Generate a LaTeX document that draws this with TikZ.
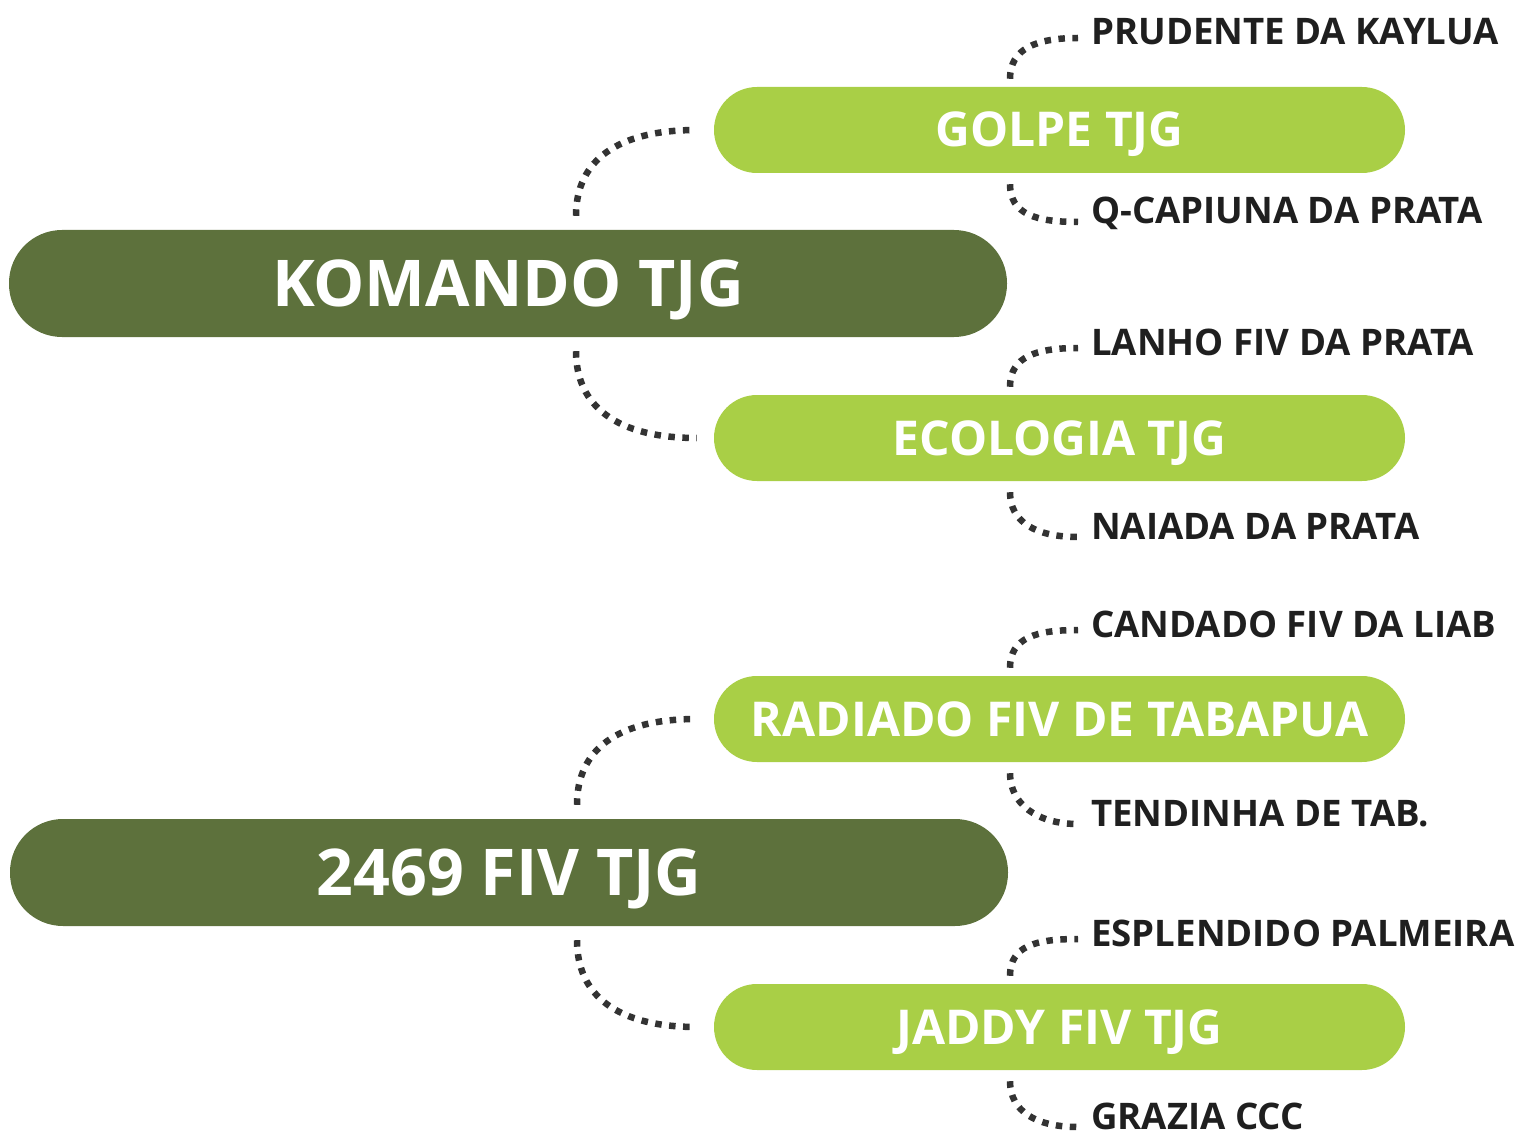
\documentclass[tikz,border=0pt]{standalone}
\usepackage{fontspec}
\setmainfont{Open Sans}[BoldFont={* Bold}]
\definecolor{darkg}{HTML}{5D713C}
\definecolor{lightg}{HTML}{A9CF46}
\definecolor{dotc}{HTML}{333333}
\begin{document}
\begin{tikzpicture}[x=1pt,y=-1pt,
  mainbar/.style={fill=darkg,rounded corners=53pt,minimum width=998pt,minimum height=107pt,inner sep=0pt,text height=46pt,text depth=0pt,text=white,font=\fontsize{64.5}{70}\selectfont\bfseries},
  subbar/.style={fill=lightg,rounded corners=43pt,minimum width=691pt,minimum height=86pt,inner sep=0pt,text height=34pt,text depth=0pt,text=white,font=\fontsize{48}{52}\selectfont\bfseries},
  leaf/.style={anchor=west,inner sep=0pt,text height=26pt,text depth=0pt,text=black!88,font=\fontsize{36.6}{40}\selectfont\bfseries},
  dotline/.style={draw=dotc,line width=6.5pt,dash pattern=on 6.5pt off 7.5pt}]
\useasboundingbox (0,0) rectangle (1516,1134);
% main bars
\node[mainbar] (k1) at (508,283.5) {KOMANDO TJG};
\node[mainbar] (k2) at (509,872.5) {2469 FIV TJG};
% sub bars
\node[subbar] (g1) at (1059.5,130) {GOLPE TJG};
\node[subbar] (g2) at (1059.5,438) {ECOLOGIA TJG};
\node[subbar] (g3) at (1059.5,719) {RADIADO FIV DE TABAPUA};
\node[subbar] (g4) at (1059.5,1027) {JADDY FIV TJG};
% leaves
\node[leaf] (l1) at (1091,32) {PRUDENTE DA KAYLUA};
\node[leaf] (l2) at (1091,211) {Q-CAPIUNA DA PRATA};
\node[leaf] (l3) at (1091,342) {LANHO FIV DA PRATA};
\node[leaf] (l4) at (1091,526) {NAIADA DA PRATA};
\node[leaf] (l5) at (1091,624) {CANDADO FIV DA LIAB};
\node[leaf] (l6) at (1091,813) {TENDINHA DE TAB.};
\node[leaf] (l7) at (1091,933) {ESPLENDIDO PALMEIRA};
\node[leaf] (l8) at (1091,1116) {GRAZIA CCC};
% connectors main -> sub
\foreach \k/\a/\b in {k1/g1/g2,k2/g3/g4}{
  \draw[dotline] ([xshift=68pt,yshift=14pt]\k.north) .. controls +(0,-55) and +(-80,0) .. ([xshift=-17pt]\a.west);
  \draw[dotline] ([xshift=68pt,yshift=-14pt]\k.south) .. controls +(0,55) and +(-80,0) .. ([xshift=-17pt]\b.west);
}
% connectors sub -> leaves
\foreach \g/\u/\d in {g1/l1/l2,g2/l3/l4,g3/l5/l6,g4/l7/l8}{
  \draw[dotline] ([xshift=-49.5pt,yshift=8pt]\g.north) .. controls +(0,-30) and +(-42,0) .. ([xshift=-13pt,yshift=-6pt]\u.west);
  \draw[dotline] ([xshift=-49.5pt,yshift=-11pt]\g.south) .. controls +(0,30) and +(-42,0) .. ([xshift=-13pt,yshift=-11pt]\d.west);
}
\end{tikzpicture}
\end{document}
